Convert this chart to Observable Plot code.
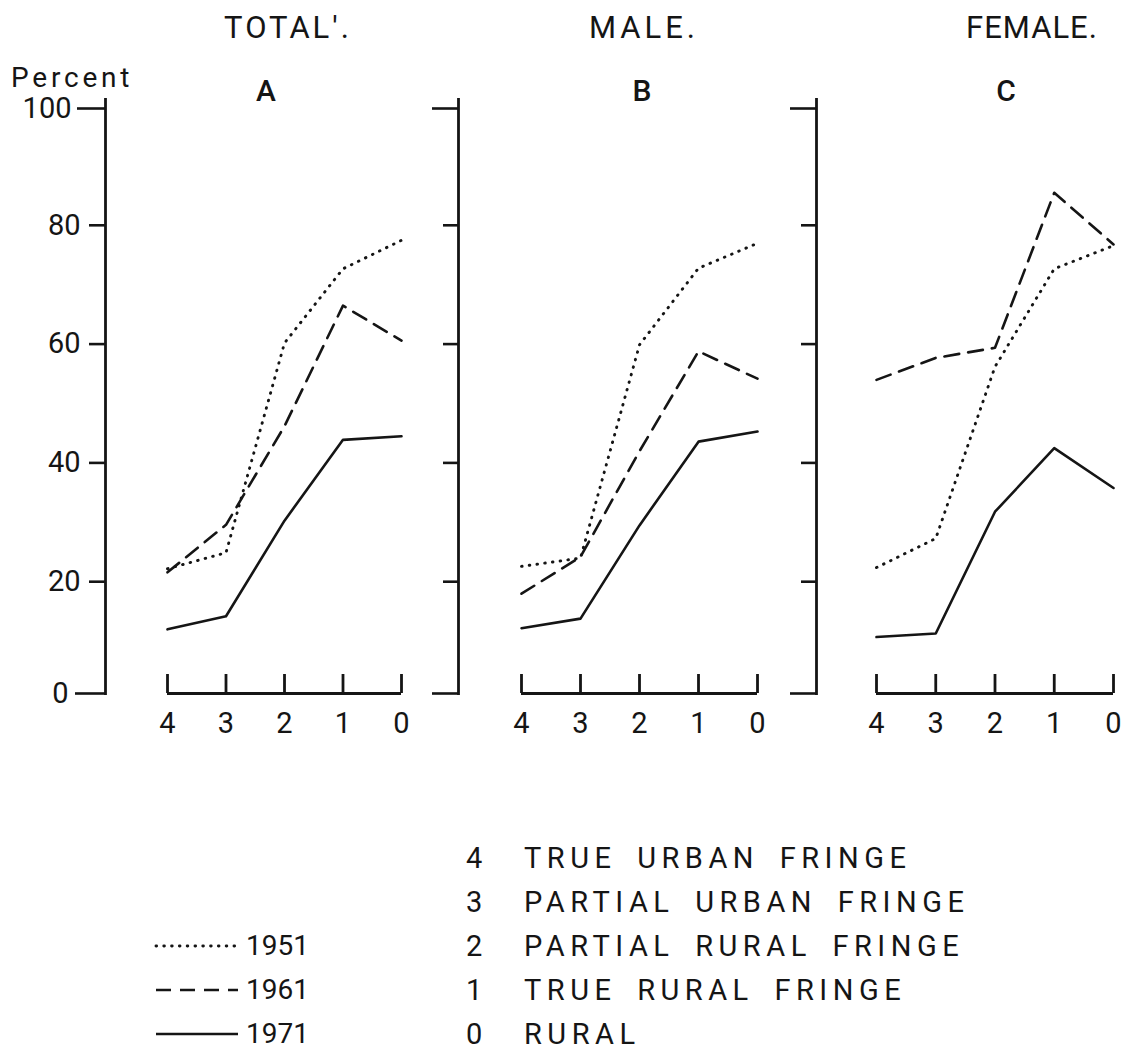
<!DOCTYPE html>
<html><head><meta charset="utf-8">
<script src="https://cdn.jsdelivr.net/npm/d3@7"></script>
<script src="https://cdn.jsdelivr.net/npm/@observablehq/plot@0.6"></script>
<style>
body{margin:0;background:#fff;}
#root{position:relative;width:1134px;height:1054px;font-family:Roboto,"DejaVu Sans",sans-serif;color:#151515;overflow:hidden;}
.t{position:absolute;white-space:pre;line-height:1;}
.c{transform:translate(-50%,-50%);}
.l{transform:translateY(-50%);}
</style></head><body><div id="root"></div>
<script>
// ---- data ----
const zones = [4, 3, 2, 1, 0];
const years = ["1951", "1961", "1971"];
const panelKeys = ["A", "B", "C"];
const panelTitles = ["TOTAL'.", "MALE.", "FEMALE."];
const yMidTicks = [20, 40, 60, 80];
const yTopTick = [100];
const yBottomTick = [0];
const total1951 = [21, 23.7, 59, 71.5, 76.3];
const total1961 = [20.4, 28.4, 45, 65.3, 59.4];
const total1971 = [10.8, 13, 29.1, 42.7, 43.3];
const male1951 = [21.4, 22.8, 58.7, 71.6, 75.8];
const male1961 = [16.8, 23, 40.8, 57.6, 53];
const male1971 = [11, 12.6, 28.3, 42.4, 44.1];
const female1951 = [21.2, 26.1, 55, 71.5, 75.4];
const female1961 = [52.8, 56.5, 58.2, 84.3, 75.6];
const female1971 = [9.5, 10.1, 30.6, 41.3, 34.6];
const zoneCodes = ["4", "3", "2", "1", "0"];
const zoneNames = ["TRUE URBAN FRINGE", "PARTIAL URBAN FRINGE", "PARTIAL RURAL FRINGE", "TRUE RURAL FRINGE", "RURAL"];

const series = [
  [total1951, total1961, total1971],
  [male1951, male1961, male1971],
  [female1951, female1961, female1971]
];
const yearStyle = {
  "1951": {strokeDasharray: "0.6,7.2", strokeLinecap: "round", strokeWidth: 2.9},
  "1961": {strokeDasharray: "15,9", strokeWidth: 2.6},
  "1971": {strokeWidth: 2.6}
};
const INK = "#151515";
const FONT = 'Roboto,"DejaVu Sans",sans-serif';
const root = document.getElementById("root");

const layout = [
  {svgLeft: 0, marginLeft: 105, inset: 62, dataWidth: 234, width: 418, labels: true},
  {svgLeft: 418, marginLeft: 40, inset: 63, dataWidth: 236, width: 358, labels: false},
  {svgLeft: 776, marginLeft: 40, inset: 60, dataWidth: 237, width: 358, labels: false}
];

layout.forEach((L, p) => {
  const rows = [];
  years.forEach((yr, k) => zones.forEach((z, i) => rows.push({zone: z, value: series[p][k][i], year: yr})));
  const big = L.labels ? 28 : 26;
  const fmt = L.labels ? (d => String(d)) : (() => "");
  const chart = Plot.plot({
    width: L.width, height: 745,
    marginTop: 99, marginBottom: 52, marginLeft: L.marginLeft, marginRight: 4,
    x: {domain: [d3.max(zones), d3.min(zones)], range: [L.marginLeft + L.inset, L.marginLeft + L.inset + L.dataWidth]},
    y: {domain: [0, 100]},
    style: {background: "transparent", fontFamily: FONT, color: INK, overflow: "visible"},
    marks: [
      Plot.frame({anchor: "left", stroke: INK, strokeWidth: 2.8}),
      Plot.axisY({ticks: yMidTicks, tickSize: L.labels ? 16 : 15, tickPadding: 9, tickFormat: fmt, fontSize: 29, dy: 7, label: null, stroke: INK, strokeWidth: 2.6}),
      Plot.axisY({ticks: yTopTick, tickSize: big, tickPadding: 6, tickFormat: fmt, fontSize: 29, dy: 9, label: null, stroke: INK, strokeWidth: 2.6}),
      Plot.axisY({ticks: yBottomTick, tickSize: L.labels ? 30 : 26, tickPadding: 7, tickFormat: fmt, fontSize: 29, dy: 0, label: null, stroke: INK, strokeWidth: 2.6}),
      Plot.ruleY([0], {x1: () => d3.max(zones), x2: () => d3.min(zones), stroke: INK, strokeWidth: 2.8}),
      Plot.ruleX(zones, {x: d => d, y1: () => 0, y2: () => 3.2, stroke: INK, strokeWidth: 2.8}),
      Plot.axisX({ticks: zones, tickSize: 0, tickPadding: 19, tickFormat: d => String(d), fontSize: 29, label: null, fill: INK}),
      ...years.map(yr => Plot.line(rows.filter(r => r.year === yr), {x: "zone", y: "value", stroke: INK, ...yearStyle[yr]}))
    ]
  });
  chart.style.position = "absolute";
  chart.style.top = "0px";
  chart.style.left = L.svgLeft + "px";
  root.appendChild(chart);
});

function addText(str, x, y, size, cls, extra) {
  const d = document.createElement("div");
  d.className = "t " + cls;
  d.textContent = str;
  d.style.left = x + "px";
  d.style.top = y + "px";
  d.style.fontSize = size + "px";
  Object.assign(d.style, extra || {});
  root.appendChild(d);
  return d;
}

// panel titles and letters
const titleX = [288, 644, 1032];
const titleSpacing = ["3px", "4px", "1px"];
const letterX = [266, 642, 1006];
panelTitles.forEach((t, i) => addText(t, titleX[i], 27, 31, "c", {letterSpacing: titleSpacing[i]}));
panelKeys.forEach((k, i) => addText(k, letterX[i], 91, 30, "c", {fontWeight: 500}));
addText("Percent", 11, 78, 28, "l", {letterSpacing: "3.8px"});

// zone legend
zoneCodes.forEach((c, i) => {
  const y = 858 + i * 44;
  addText(c, 466, y, 29, "l", {});
  addText(zoneNames[i], 524, y, 29, "l", {letterSpacing: "5.5px", wordSpacing: "8px"});
});

// year legend
const ns = "http://www.w3.org/2000/svg";
years.forEach((yr, i) => {
  const y = 946 + i * 44;
  const s = document.createElementNS(ns, "svg");
  s.setAttribute("width", 100); s.setAttribute("height", 10);
  s.style.position = "absolute"; s.style.left = "152px"; s.style.top = (y - 5) + "px";
  const ln = document.createElementNS(ns, "line");
  ln.setAttribute("x1", 4); ln.setAttribute("x2", 86); ln.setAttribute("y1", 5); ln.setAttribute("y2", 5);
  ln.setAttribute("stroke", INK);
  const st = yearStyle[yr];
  ln.setAttribute("stroke-width", st.strokeWidth);
  if (st.strokeDasharray) ln.setAttribute("stroke-dasharray", st.strokeDasharray);
  if (st.strokeLinecap) ln.setAttribute("stroke-linecap", st.strokeLinecap);
  s.appendChild(ln);
  root.appendChild(s);
  addText(yr, 246, y, 28, "l", {});
});
</script></body></html>
